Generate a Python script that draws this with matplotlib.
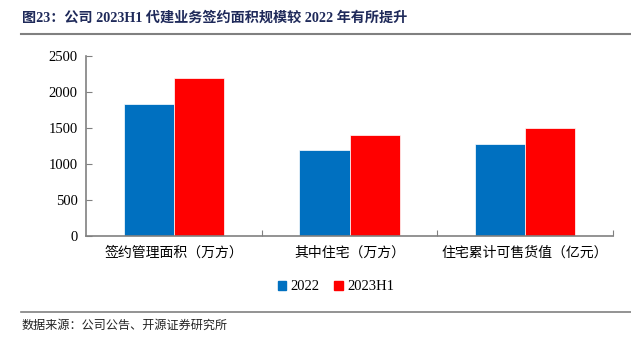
import matplotlib
matplotlib.use('Agg')
import matplotlib.pyplot as plt
from matplotlib.lines import Line2D
from matplotlib.patches import Patch
import numpy as np

# Данные
categories = ['签约管理面积（万方）', '其中住宅（万方）', '住宅累计可售货值（亿元）']
values_2022 = [1830, 1195, 1280]
values_2023h1 = [2200, 1400, 1500]
series_names = ['2022', '2023H1']

plt.rcParams.update({
    'font.family': ['Liberation Serif', 'Noto Sans CJK SC'],
    'font.size': 10.5,
})

blue = '#0070C0'
red = '#FF0000'
gray = '#808080'

fig = plt.figure(figsize=(6.31, 3.45), dpi=100)
ax = fig.add_axes([86 / 631, 109 / 345, 527 / 631, 180 / 345])

x = np.arange(len(categories))
w = 0.285
ax.bar(x - w / 2, values_2022, width=w, color=blue, edgecolor='white', linewidth=0.5)
ax.bar(x + w / 2, values_2023h1, width=w, color=red, edgecolor='white', linewidth=0.5)

ax.set_xlim(-0.5, 2.5)
ax.set_ylim(0, 2500)
ax.set_yticks(range(0, 2501, 500))
ax.tick_params(axis='y', direction='in', length=4, color=gray, labelsize=10.5, pad=6)

# Подписи категорий в центрах, засечки на границах
ax.set_xticks([0.5, 1.5, 2.5])
ax.set_xticklabels([])
ax.set_xticks(x, minor=True)
ax.set_xticklabels(categories, minor=True, family=['Noto Sans CJK SC'], fontsize=10)
ax.tick_params(axis='x', which='major', direction='in', length=4, color=gray)
ax.tick_params(axis='x', which='minor', length=0, pad=7)

for s in ['top', 'right']:
    ax.spines[s].set_visible(False)
for s in ['left', 'bottom']:
    ax.spines[s].set_color(gray)
    ax.spines[s].set_linewidth(1.2)

handles = [Patch(color=blue), Patch(color=red)]
fig.legend(handles, series_names, loc='center', bbox_to_anchor=(336 / 631, 1 - 287 / 345),
           ncol=2, frameon=False, handlelength=0.6, handleheight=0.6,
           handletextpad=0.3, columnspacing=1.0, fontsize=10.5)

# Заголовок и источник
fig.text(22 / 631, 1 - 18 / 345, '图23：公司 2023H1 代建业务签约面积规模较 2022 年有所提升',
         fontsize=10.2, fontweight='bold', color='#1F2A5A', va='center', ha='left')
fig.add_artist(Line2D([21 / 631, 1], [1 - 34 / 345] * 2, color='#808080', linewidth=1.5))
fig.add_artist(Line2D([21 / 631, 1], [1 - 312 / 345] * 2, color='#808080', linewidth=1.2))
fig.text(22 / 631, 1 - 325 / 345, '数据来源：公司公告、开源证券研究所',
         fontsize=8.7, family=['Noto Sans CJK SC'], color='#222222', va='center', ha='left')

fig.savefig('out.png', dpi=100)
